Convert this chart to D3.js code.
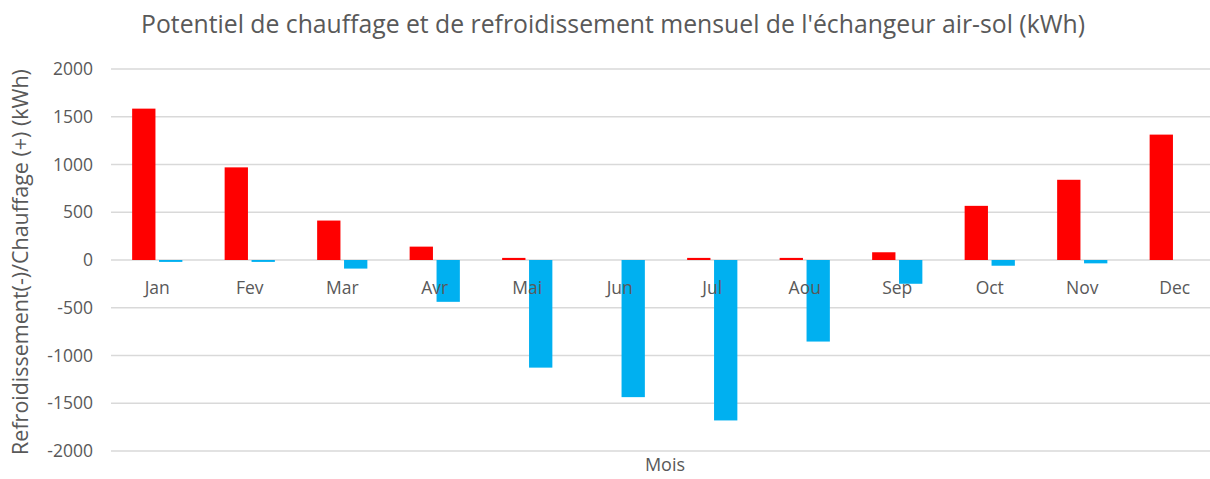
<!DOCTYPE html>
<html><head><meta charset="utf-8">
<script src="https://cdn.jsdelivr.net/npm/d3@7/dist/d3.min.js"></script>
<style>body{margin:0;background:#fff;overflow:hidden}svg{display:block}text{font-family:"Open Sans","Noto Sans",sans-serif}</style>
</head><body><svg id="c" width="1210" height="479"></svg>
<script>
const months = ["Jan","Fev","Mar","Avr","Mai","Jun","Jul","Aou","Sep","Oct","Nov","Dec"];
const chauffage = [1585, 970, 413, 140, 22, 0, 22, 22, 81, 567, 840, 1313];
const refroid = [-20, -20, -90, -438, -1127, -1436, -1680, -854, -249, -60, -35, 0];
const yTicks = [2000, 1500, 1000, 500, 0, -500, -1000, -1500, -2000];
const title = "Potentiel de chauffage et de refroidissement mensuel de l'échangeur air-sol (kWh)";
const yTitle = "Refroidissement(-)/Chauffage  (+) (kWh)";
const xTitle = "Mois";

const svg = d3.select("#c");
const L = 111, R = 1221, T = 69, B = 451;
const x = d3.scaleBand().domain(months).range([L, R]).padding(0);
const y = d3.scaleLinear().domain([-2000, 2000]).range([B, T]);
const bw = x.bandwidth() * 0.252, gap = 3.6;

svg.append("g").selectAll("line").data(yTicks).join("line")
  .attr("x1", L).attr("x2", R).attr("y1", d => y(d)).attr("y2", d => y(d))
  .attr("stroke", "#d9d9d9").attr("stroke-width", 1.3);

svg.append("g").selectAll("text").data(yTicks).join("text")
  .attr("x", 93).attr("y", d => y(d)).attr("dy", "0.35em").attr("text-anchor", "end")
  .attr("fill", "#595959").attr("font-size", 17.5).text(d => d);

const cx = m => x(m) + x.bandwidth() / 2;
svg.append("g").selectAll("rect").data(months).join("rect")
  .attr("x", (m) => cx(m) - gap / 2 - bw)
  .attr("width", bw)
  .attr("y", (m, i) => y(Math.max(0, chauffage[i])))
  .attr("height", (m, i) => Math.abs(y(chauffage[i]) - y(0)))
  .attr("fill", "#ff0000");
svg.append("g").selectAll("rect").data(months).join("rect")
  .attr("x", (m) => cx(m) + gap / 2)
  .attr("width", bw)
  .attr("y", (m, i) => y(Math.max(0, refroid[i])))
  .attr("height", (m, i) => Math.abs(y(refroid[i]) - y(0)))
  .attr("fill", "#00b0f0");

svg.append("g").selectAll("text").data(months).join("text")
  .attr("x", m => cx(m)).attr("y", y(0) + 34).attr("text-anchor", "middle")
  .attr("fill", "#595959").attr("font-size", 17.5).text(m => m);

function fit(sel, target) {
  const w = sel.node().getComputedTextLength();
  const fs = +sel.attr("font-size");
  sel.attr("font-size", fs * target / w);
}
const t = svg.append("text").attr("x", 613).attr("y", 33).attr("text-anchor", "middle")
  .attr("fill", "#595959").attr("font-size", 20).text(title);
fit(t, 944);
const yt = svg.append("text").attr("transform", "translate(28,262) rotate(-90)")
  .attr("text-anchor", "middle").attr("fill", "#595959").attr("font-size", 16).text(yTitle);
fit(yt, 386);
svg.append("text").attr("x", 665).attr("y", 471).attr("text-anchor", "middle")
  .attr("fill", "#595959").attr("font-size", 18).text(xTitle);
</script></body></html>
